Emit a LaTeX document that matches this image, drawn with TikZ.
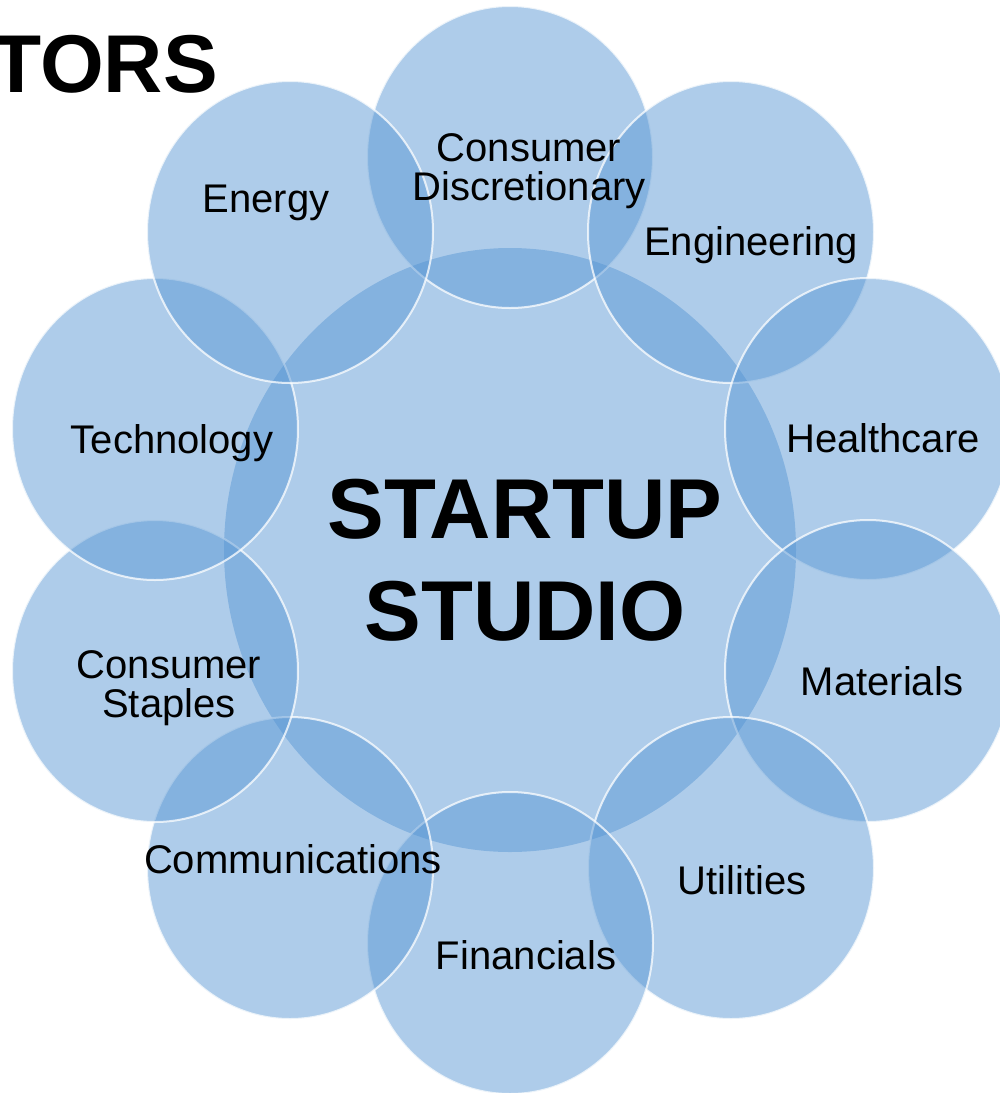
\documentclass[tikz,border=0pt]{standalone}
\usepackage{fontspec}
\setmainfont{Liberation Sans}
\usetikzlibrary{shapes.geometric}
\definecolor{bubfill}{RGB}{86,149,211}
\begin{document}
\begin{tikzpicture}[x=0.5pt,y=-0.5pt,
  bub/.style={ellipse, inner sep=0pt, outer sep=0pt, fill=bubfill, fill opacity=0.48,
    draw=white, draw opacity=0.75, line width=1pt, minimum width=143pt, minimum height=151pt},
  corebub/.style={ellipse, inner sep=0pt, outer sep=0pt, fill=bubfill, fill opacity=0.48,
    minimum width=286pt, minimum height=302pt},
  lbl/.style={font=\fontsize{20}{19.5}\selectfont, text=black, inner sep=0pt, align=center},
  biglbl/.style={font=\fontsize{42.5}{51}\selectfont\bfseries, text=black, inner sep=0pt, align=center},
  titlelbl/.style={font=\fontsize{41}{48}\selectfont\bfseries, text=black, inner sep=0pt}
]
\useasboundingbox (0,0) rectangle (1000,1093);

% central circle
\node[corebub] (core) at (510,550) {};

% outer circles
\node[bub] (cd)   at (510,157) {};
\node[bub] (eng)  at (731,232) {};
\node[bub] (hc)   at (868,429) {};
\node[bub] (mat)  at (868,671) {};
\node[bub] (uti)  at (731,868) {};
\node[bub] (fin)  at (510,943) {};
\node[bub] (com)  at (290,868) {};
\node[bub] (cs)   at (155,671) {};
\node[bub] (tech) at (155,429) {};
\node[bub] (ene)  at (290,232) {};

% labels
\node[titlelbl, anchor=base west] (title) at (-9,92) {TORS};
\node[biglbl] (coret) at (525,560) {STARTUP\\STUDIO};
\node[lbl] (cdt) at (529,171) {Consumer\\Discretionary};
\node[lbl, anchor=base] (engt) at (751,255) {Engineering};
\node[lbl, anchor=base] (hct) at (883,452) {Healthcare};
\node[lbl, anchor=base] (matt) at (882,695) {Materials};
\node[lbl, anchor=base] (utit) at (742,894) {Utilities};
\node[lbl, anchor=base] (fint) at (526,969) {Financials};
\node[lbl, anchor=base] (comt) at (293,873) {Communications};
\node[lbl] (cst) at (169,688) {Consumer\\Staples};
\node[lbl, anchor=base] (techt) at (172,453) {Technology};
\node[lbl, anchor=base] (enet) at (266,212) {Energy};
\end{tikzpicture}
\end{document}
